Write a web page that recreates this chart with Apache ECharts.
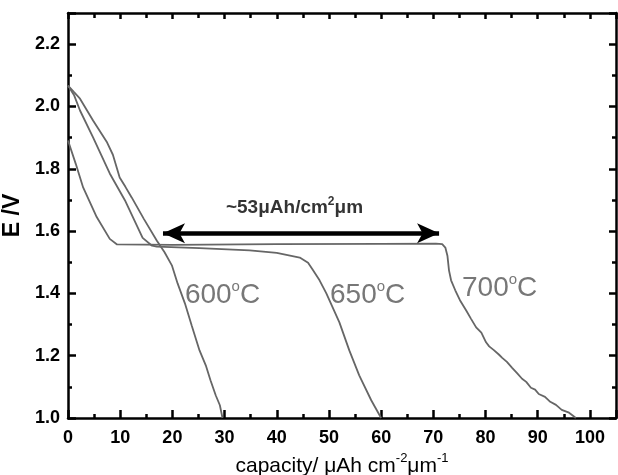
<!DOCTYPE html>
<html><head><meta charset="utf-8">
<script src="https://cdn.jsdelivr.net/npm/echarts@6/dist/echarts.min.js"></script>
<style>html,body{margin:0;padding:0;background:#fff}#c{width:618px;height:475px}</style>
</head><body><div id="c"></div>
<script>
// ---- data (capacity in µAh cm^-2 µm^-1, E in V) ----
const curve600 = [[0,2.067],[1.2,2.045],[2.3,2.025],[4.8,1.955],[7.5,1.884],[8.6,1.845],[9.9,1.772],[11.0,1.742],[12.2,1.708],[14.5,1.640],[17.0,1.570],[18.5,1.532],[19.9,1.490],[21.0,1.432],[22.4,1.368],[23.7,1.297],[25.2,1.217],[26.4,1.169],[27.3,1.121],[28.3,1.073],[29.1,1.041],[29.6,1.0]];
const curve650 = [[0,2.067],[1.2,2.035],[2.3,1.987],[4.8,1.901],[8.0,1.785],[10.9,1.699],[14.3,1.578],[16.1,1.553],[17.0,1.550],[25.2,1.545],[34.8,1.538],[40.0,1.530],[44.4,1.515],[46.0,1.498],[46.8,1.478],[48.2,1.442],[49.5,1.400],[52.0,1.307],[53.9,1.217],[55.8,1.137],[58.1,1.057],[60.0,1.0]];
const curve700 = [[0,1.891],[1.5,1.815],[2.9,1.740],[5.5,1.645],[8.0,1.575],[9.4,1.557],[20,1.556],[40,1.558],[60,1.559],[70.5,1.560],[71.7,1.558],[72.3,1.547],[72.7,1.521],[73.0,1.474],[73.4,1.442],[74.2,1.410],[75.1,1.378],[76.3,1.345],[77.2,1.319],[78.2,1.291],[79.2,1.274],[80.1,1.243],[80.7,1.230],[81.6,1.218],[82.6,1.203],[83.2,1.193],[84.1,1.180],[85.1,1.161],[86.0,1.145],[87.0,1.126],[87.8,1.116],[88.7,1.097],[89.5,1.091],[90.2,1.077],[91.4,1.068],[92.4,1.052],[93.5,1.042],[94.6,1.026],[96.0,1.017],[96.7,1.008],[97.3,1.0]];
const arrowSpan = [[18.2,1.593],[71.1,1.593]];
const arrowText = {pos:[43.4,1.679], main:'~53μAh/cm', sup:'2', tail:'μm'};
const tempLabels = [{pos:[22.4,1.398], t:'600'},{pos:[50.2,1.398], t:'650'},{pos:[75.5,1.418], t:'700'}];
const xTicks = {min:0, max:105, major:10, minor:5};
const yTicks = {min:1.0, max:2.3, major:0.2, minor:0.1};

const chart = echarts.init(document.getElementById('c'), null, {renderer:'canvas'});
const FONT = 'Liberation Sans, Arial, sans-serif';
const lineCol = '#666666';
function axisX(pos, interval, len, labels, line){
  return {type:'value', position:pos, min:xTicks.min, max:xTicks.max, interval:interval,
    axisLine:{show:true, onZero:false, lineStyle:{color: line ? '#000' : 'rgba(0,0,0,0)', width:2.5}},
    axisTick:{show:true, inside:true, length:len, lineStyle:{color:'#000', width:2.5}},
    splitLine:{show:false},
    axisLabel:{show:labels, color:'#000', fontFamily:FONT, fontWeight:'bold', fontSize:18, margin:11,
      formatter: v => (v % 10 === 0 && v <= 100) ? String(v) : ''},
    name: labels ? '{n|capacity/ μAh cm}{s|-2}{n|μm}{s|-1}' : '',
    nameLocation:'middle', nameGap:33,
    nameTextStyle:{rich:{n:{fontFamily:FONT, fontSize:21, color:'#000', verticalAlign:'bottom', lineHeight:25},
                          s:{fontFamily:FONT, fontSize:13, color:'#000', verticalAlign:'top', lineHeight:25}}}};
}
function axisY(pos, interval, len, labels, line){
  return {type:'value', position:pos, min:yTicks.min, max:yTicks.max, interval:interval,
    axisLine:{show:true, onZero:false, lineStyle:{color: line ? '#000' : 'rgba(0,0,0,0)', width:2.5}},
    axisTick:{show:true, inside:true, length:len, lineStyle:{color:'#000', width:2.5}},
    splitLine:{show:false},
    axisLabel:{show:labels, color:'#000', fontFamily:FONT, fontWeight:'bold', fontSize:18, margin:8,
      formatter: v => { const k = Math.round(v*10); return (k % 2 === 0 && v < 2.25) ? v.toFixed(1) : ''; }},
    name: labels ? 'E /V' : '', nameLocation:'middle', nameGap:40, nameRotate:90,
    nameTextStyle:{fontFamily:FONT, fontWeight:'bold', fontSize:23, color:'#000'}};
}
const mk = (d) => ({type:'line', data:d, xAxisIndex:0, yAxisIndex:0, showSymbol:false, symbol:'none',
  lineStyle:{color:lineCol, width:1.8}, clip:true, z:3, animation:false});

chart.setOption({
  animation:false,
  backgroundColor:'#fff',
  grid:{left:68, right:2, top:13, bottom:57, containLabel:false, outerBoundsMode:'none'},
  xAxis:[axisX('bottom', xTicks.major, 8, true, true), axisX('bottom', xTicks.minor, 4, false, false),
         axisX('top', xTicks.major, 6, false, true), axisX('top', xTicks.minor, 5, false, false)],
  yAxis:[axisY('left', yTicks.major, 8, true, true), axisY('left', yTicks.minor, 4, false, false),
         axisY('right', yTicks.major, 7, false, true), axisY('right', yTicks.minor, 4, false, false)],
  series:[
    mk(curve600), mk(curve650), mk(curve700),
    {type:'line', data:arrowSpan, xAxisIndex:0, yAxisIndex:0, showSymbol:false, symbol:'none',
      lineStyle:{opacity:0}, silent:true,
      markLine:{silent:true, symbol:['arrow','arrow'], symbolSize:[15,22], animation:false,
        label:{show:false}, lineStyle:{color:'#000', width:4.5, type:'solid'},
        data:[[{coord:arrowSpan[0]},{coord:arrowSpan[1]}]]}},
    {type:'scatter', xAxisIndex:0, yAxisIndex:0, symbolSize:0, silent:true,
      data:[arrowText.pos],
      label:{show:true, position:'inside', align:'center', verticalAlign:'middle',
        formatter:'{n|'+arrowText.main+'}{s|'+arrowText.sup+'}{n|'+arrowText.tail+'}',
        rich:{n:{fontFamily:FONT, fontSize:19, fontWeight:'bold', color:'#000', verticalAlign:'bottom', lineHeight:22},
              s:{fontFamily:FONT, fontSize:12, fontWeight:'bold', color:'#000', verticalAlign:'top', lineHeight:22}}}},
    {type:'scatter', xAxisIndex:0, yAxisIndex:0, symbolSize:0, silent:true,
      data:tempLabels.map(o => ({value:o.pos, name:o.t})),
      label:{show:true, position:'right', distance:0,
        formatter: p => '{n|'+p.name+'}{s|o}{n|C}',
        rich:{n:{fontFamily:FONT, fontSize:28, color:'#555', verticalAlign:'bottom', lineHeight:30},
              s:{fontFamily:FONT, fontSize:15, color:'#555', verticalAlign:'top', lineHeight:30}}}}
  ]
});
</script></body></html>
